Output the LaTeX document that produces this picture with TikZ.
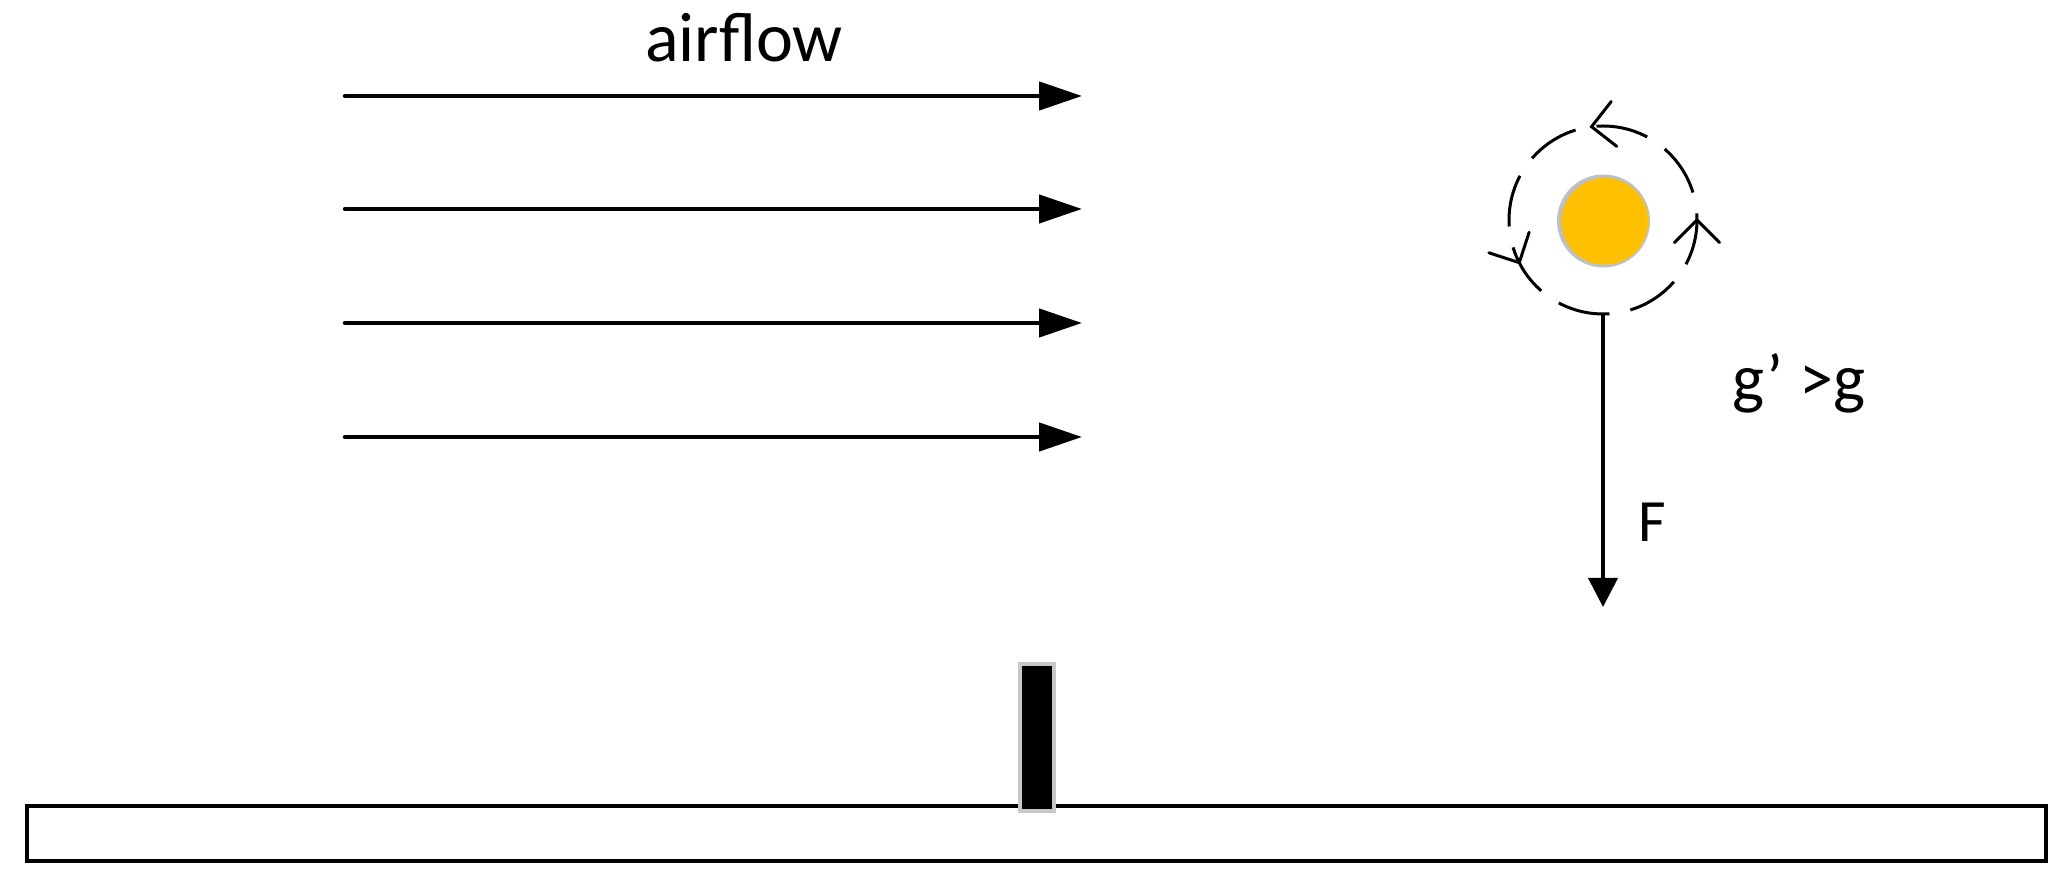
\documentclass[tikz,border=0pt]{standalone}
\usepackage{fontspec}
\setmainfont{Carlito}
\usetikzlibrary{arrows.meta}
\definecolor{ballfill}{HTML}{FFC000}
\definecolor{ballrim}{HTML}{C0C0C0}
\definecolor{postrim}{HTML}{C8C8C8}
\tikzset{
  flowarrow/.style={line width=4.5pt, line cap=round, -{Triangle[length=43pt,width=28pt]}},
  forcearrow/.style={line width=4pt, -{Triangle[length=29pt,width=29pt]}},
  barb/.style={line width=3pt, line cap=round},
  orbitring/.style={circle, draw, line width=3pt, inner sep=0pt, outer sep=0pt,
     minimum size=188pt, dash pattern=on 52.5pt off 21.3pt, dash phase=45.9pt},
  ballnode/.style={circle, fill=ballfill, draw=ballrim, line width=3pt, inner sep=0pt,
     outer sep=0pt, minimum size=90pt},
  postnode/.style={rectangle, fill=black, draw=postrim, line width=4pt, inner sep=0pt,
     outer sep=0pt, minimum width=34pt, minimum height=147pt},
  groundnode/.style={rectangle, fill=white, draw=black, line width=4pt, inner sep=0pt,
     outer sep=0pt, minimum width=2019pt, minimum height=55pt},
  lbl/.style={inner sep=0pt, outer sep=0pt}
}
\begin{document}
\begin{tikzpicture}[x=1pt,y=1pt]
\useasboundingbox (0,0) rectangle (2064,883);
% ground bar and post
\node[groundnode] (ground) at (1036.5,49.5) {};
\node[postnode] (post) at (1037,145.5) {};
% airflow
\node[lbl, anchor=base, font=\fontsize{70}{84}\selectfont] (airflow) at (744,821) {airflow};
\foreach \i/\y in {1/787,2/674,3/560,4/446}{
  \coordinate (s\i) at (345,\y);
  \coordinate (e\i) at (1082,\y);
  \draw[flowarrow] (s\i) -- (e\i);
}
% ball and rotation
\node[orbitring] (orbit) at (1603,663) {};
\node[ballnode] (ball) at (1603.5,662) {};
\foreach \a in {97,0,207}{
  \draw[barb] ([shift={(\a-45:32)}]orbit.\a) -- (orbit.\a) -- ([shift={(\a-135:32)}]orbit.\a);
}
% force
\coordinate (ftip) at (1603,276);
\draw[forcearrow] (orbit.south) -- (ftip);
\node[lbl, anchor=base west, font=\fontsize{60}{72}\selectfont] (flabel) at (1638,341) {F};
\node[lbl, anchor=base west, font=\fontsize{68}{80}\selectfont] (glabel) at (1732,481) {g’ >g};
\end{tikzpicture}
\end{document}
